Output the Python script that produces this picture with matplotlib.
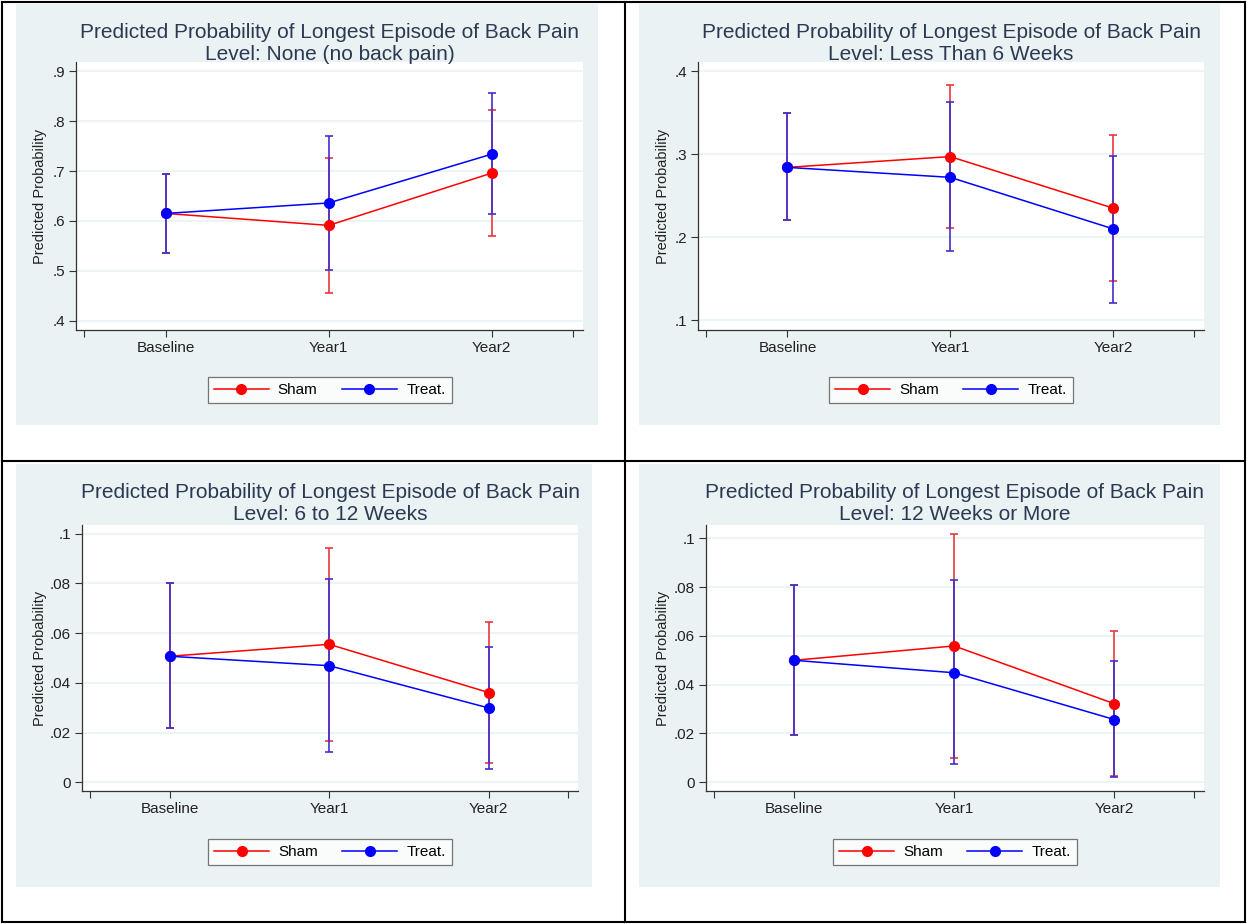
import numpy as np
import matplotlib
matplotlib.use('Agg')
import matplotlib.pyplot as plt
from matplotlib.patches import Rectangle
from matplotlib.lines import Line2D
from matplotlib.ticker import FuncFormatter

plt.rcParams['font.family'] = ['Liberation Sans', 'DejaVu Sans']

#############################################################
###  Data          ###
#############################################################
groups = ['Baseline', 'Year1', 'Year2']
series_names = ['Sham', 'Treat.']

levels = ['None (no back pain)', 'Less Than 6 Weeks', '6 to 12 Weeks', '12 Weeks or More']

# Level: None
p1_sham = [0.615, 0.591, 0.696]
p1_sham_lo = [0.536, 0.456, 0.570]
p1_sham_hi = [0.694, 0.727, 0.823]
p1_treat = [0.615, 0.636, 0.734]
p1_treat_lo = [0.536, 0.501, 0.613]
p1_treat_hi = [0.694, 0.770, 0.856]
p1_yticks = [0.4, 0.5, 0.6, 0.7, 0.8, 0.9]

# Level: Less than 6 weeks
p2_sham = [0.284, 0.297, 0.235]
p2_sham_lo = [0.220, 0.211, 0.147]
p2_sham_hi = [0.349, 0.383, 0.323]
p2_treat = [0.284, 0.272, 0.210]
p2_treat_lo = [0.220, 0.183, 0.121]
p2_treat_hi = [0.349, 0.363, 0.298]
p2_yticks = [0.1, 0.2, 0.3, 0.4]

# Level: 6 to 12 weeks
p3_sham = [0.0507, 0.0555, 0.0361]
p3_sham_lo = [0.0217, 0.0166, 0.0079]
p3_sham_hi = [0.0800, 0.0942, 0.0645]
p3_treat = [0.0507, 0.0469, 0.0299]
p3_treat_lo = [0.0217, 0.0122, 0.0055]
p3_treat_hi = [0.0800, 0.0818, 0.0544]
p3_yticks = [0, 0.02, 0.04, 0.06, 0.08, 0.1]

# Level: 12 weeks or more
p4_sham = [0.0500, 0.0559, 0.0322]
p4_sham_lo = [0.0193, 0.0100, 0.0026]
p4_sham_hi = [0.0807, 0.1020, 0.0622]
p4_treat = [0.0500, 0.0449, 0.0257]
p4_treat_lo = [0.0193, 0.0075, 0.0020]
p4_treat_hi = [0.0807, 0.0829, 0.0497]
p4_yticks = [0, 0.02, 0.04, 0.06, 0.08, 0.1]

#############################################################
###  Layout (pixels on a 1247 x 924 canvas)               ###
#############################################################
W, H = 1247, 924
BG = '#eaf2f3'
TITLE_COL = '#2b3a52'
SHAM_COL = '#ff0000'
TREAT_COL = '#0000ff'
SHAM_CI = '#e8383c'
TREAT_CI = '#4030d0'

panels = [
    # background box, plot box, ylim, data
    dict(bg=(16, 4, 598, 425), box=(76, 62, 583, 330), ylim=(0.381, 0.919),
         yticks=p1_yticks, level=levels[0],
         sham=(p1_sham, p1_sham_lo, p1_sham_hi), treat=(p1_treat, p1_treat_lo, p1_treat_hi)),
    dict(bg=(639, 4, 1220, 425), box=(698, 62, 1204, 330), ylim=(0.088, 0.411),
         yticks=p2_yticks, level=levels[1],
         sham=(p2_sham, p2_sham_lo, p2_sham_hi), treat=(p2_treat, p2_treat_lo, p2_treat_hi)),
    dict(bg=(16, 464, 592, 887), box=(82, 525, 578, 791), ylim=(-0.0035, 0.1035),
         yticks=p3_yticks, level=levels[2],
         sham=(p3_sham, p3_sham_lo, p3_sham_hi), treat=(p3_treat, p3_treat_lo, p3_treat_hi)),
    dict(bg=(639, 464, 1220, 887), box=(706, 525, 1204, 791), ylim=(-0.0036, 0.1055),
         yticks=p4_yticks, level=levels[3],
         sham=(p4_sham, p4_sham_lo, p4_sham_hi), treat=(p4_treat, p4_treat_lo, p4_treat_hi)),
]


def frac_rect(x0, y0, x1, y1):
    return [x0 / W, 1 - y1 / H, (x1 - x0) / W, (y1 - y0) / H]


def stata_fmt(v, pos):
    s = ('%g' % round(v, 6))
    if s.startswith('0.'):
        s = s[1:]
    return s


fig = plt.figure(figsize=(W / 100, H / 100), dpi=100)
fig.patch.set_facecolor('white')

xpos = np.arange(1, len(groups) + 1)

for p in panels:
    bx0, by0, bx1, by1 = p['bg']
    fig.patches.append(Rectangle((bx0 / W, 1 - by1 / H), (bx1 - bx0) / W, (by1 - by0) / H,
                                 transform=fig.transFigure, facecolor=BG, edgecolor='none',
                                 zorder=-5))
    x0, y0, x1, y1 = p['box']
    ax = fig.add_axes(frac_rect(x0, y0, x1, y1))
    ax.set_facecolor('white')

    # confidence intervals first, then lines + markers
    for (vals, lo, hi), ci_col in [(p['sham'], SHAM_CI), (p['treat'], TREAT_CI)]:
        vals = np.array(vals)
        err = [vals - np.array(lo), np.array(hi) - vals]
        ax.errorbar(xpos, vals, yerr=err, fmt='none', ecolor=ci_col, elinewidth=1.2,
                    capsize=3, capthick=1.2, zorder=3)
    ax.plot(xpos, p['sham'][0], color=SHAM_COL, lw=1.1, marker='o', ms=7,
            label=series_names[0], zorder=4)
    ax.plot(xpos, p['treat'][0], color=TREAT_COL, lw=1.1, marker='o', ms=7,
            label=series_names[1], zorder=5)

    ax.set_xlim(0.45, 3.56)
    ax.set_ylim(*p['ylim'])
    ax.set_xticks([0.5, 1, 2, 3, 3.5])
    ax.set_xticklabels([''] + groups + [''])
    ax.set_yticks(p['yticks'])
    ax.yaxis.set_major_formatter(FuncFormatter(stata_fmt))
    ax.tick_params(axis='both', labelsize=11, length=5, width=0.8, color='#333333',
                   labelcolor='#222222', pad=3)
    ax.grid(axis='y', color=BG, lw=1.2)
    ax.set_axisbelow(True)
    for side in ['top', 'right']:
        ax.spines[side].set_visible(False)
    for side in ['left', 'bottom']:
        ax.spines[side].set_color('#333333')
        ax.spines[side].set_linewidth(0.9)

    ax.set_ylabel('Predicted Probability', fontsize=10.5, color='#222222')
    ax.yaxis.set_label_coords((bx0 + 31 - x0) / (x1 - x0), 0.5)

    cx = (x0 + x1) / 2
    fig.text(cx / W, 1 - (by0 + 39) / H,
             'Predicted Probability of Longest Episode of Back Pain\nLevel: ' + p['level'],
             ha='center', va='center', fontsize=15, color=TITLE_COL, linespacing=1.2)

    leg_y = (y1 - (by1 - 35)) / (y1 - y0)
    leg = ax.legend(loc='center', bbox_to_anchor=(0.5, leg_y), ncol=2, fontsize=11,
                    frameon=True, fancybox=False, handlelength=3.6, handletextpad=0.6,
                    columnspacing=1.6, borderpad=0.4)
    leg.get_frame().set_edgecolor('#555555')
    leg.get_frame().set_linewidth(0.9)

# table borders
for (xa, ya, xb, yb) in [(2, 2, 1245, 2), (2, 922, 1245, 922), (2, 2, 2, 922),
                         (1245, 2, 1245, 922), (625, 2, 625, 922), (2, 461, 1245, 461)]:
    fig.lines.append(Line2D([xa / W, xb / W], [1 - ya / H, 1 - yb / H],
                            transform=fig.transFigure, color='black', lw=1.5))

fig.savefig('out.png', dpi=100)
